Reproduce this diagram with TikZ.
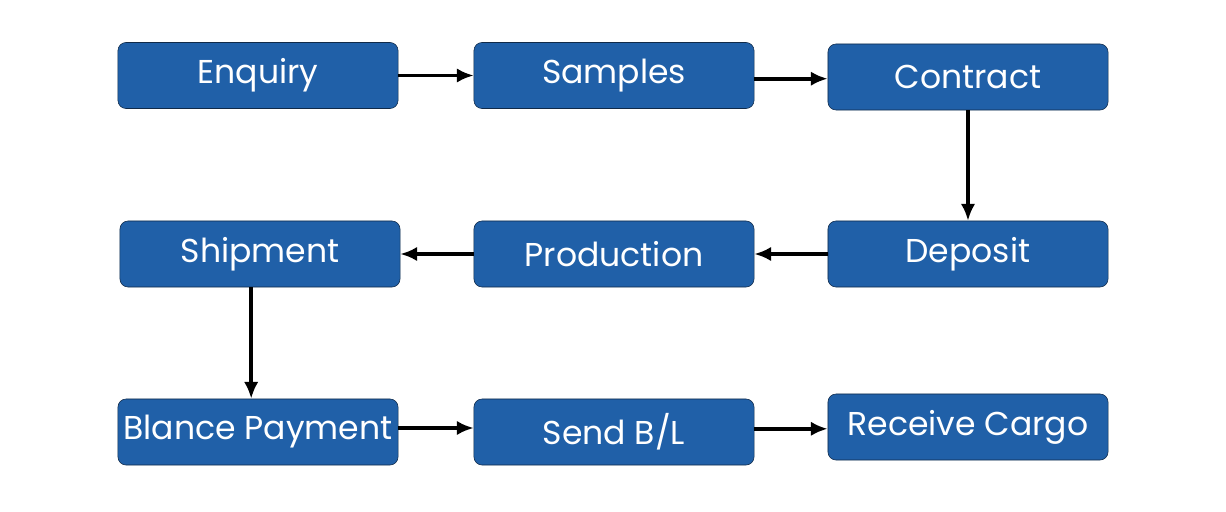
\documentclass[tikz,border=0pt]{standalone}
\usepackage{fontspec}
\setmainfont{Poppins}
\usepackage{tikz}
\usetikzlibrary{arrows.meta}
\definecolor{boxblue}{HTML}{2060A8}
\definecolor{boxline}{HTML}{102A48}

\begin{document}
\begin{tikzpicture}[x=0.025cm,y=-0.025cm,
  stage/.style={draw=boxline,fill=boxblue,rounded corners=0.2cm,minimum width=7cm,minimum height=1.65cm,text=white,font=\fontsize{23.5}{26}\selectfont,inner sep=0pt},
  flow/.style={-{Latex[length=0.42cm,width=0.36cm]},line width=2.6pt}]

\useasboundingbox (0,0) rectangle (1226,512);

% first row
\node[stage] (enquiry) at (258,75.5) {Enquiry};
\node[stage] (samples) at (614,75.5) {Samples};
\node[stage] (contract) at (968,77) {Contract};

% second row
\node[stage] (shipment) at (260,254) {Shipment};
\node[stage] (production) at (614,254) {Production};
\node[stage] (deposit) at (968,254) {Deposit};

% third row
\node[stage] (payment) at (258,432) {Blance Payment};
\node[stage] (sendbl) at (614,432) {Send B/L};
\node[stage] (cargo) at (968,427) {Receive Cargo};

\draw[flow] (enquiry) -- (samples);
\draw[flow] ([yshift=-0.08cm]samples.east) -- ([yshift=-0.08cm]samples.east -| contract.west);
\draw[flow] (contract) -- (deposit);
\draw[flow] (deposit) -- (production);
\draw[flow] (production) -- (shipment);
\draw[flow] ([xshift=-0.22cm]shipment.south) -- ([xshift=-0.22cm]shipment.south |- payment.north);
\draw[flow] ([yshift=0.1cm]payment.east) -- ([yshift=0.1cm]payment.east -| sendbl.west);
\draw[flow] ([yshift=0.08cm]sendbl.east) -- ([yshift=0.08cm]sendbl.east -| cargo.west);

\end{tikzpicture}
\end{document}
